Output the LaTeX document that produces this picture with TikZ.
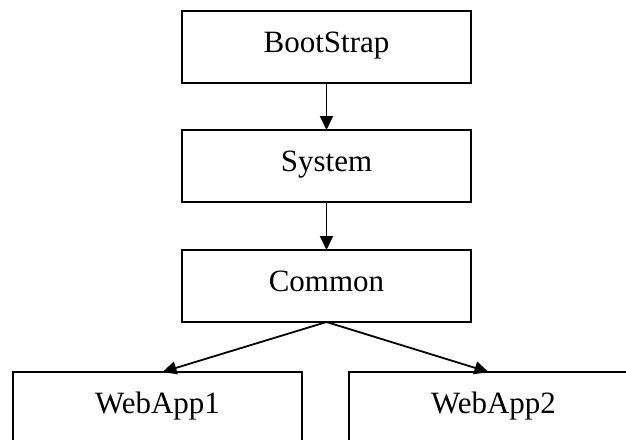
\documentclass[tikz,border=0pt]{standalone}
\usepackage{fontspec}
\setmainfont{Liberation Serif}
\usetikzlibrary{positioning,arrows.meta,calc}

\begin{document}
\begin{tikzpicture}[x=1pt,y=-1pt,
    layer/.style={draw, line width=1.8pt, minimum width=289pt, minimum height=72pt,
      inner sep=0pt, outer sep=0pt, text height=20pt, text depth=10pt,
      font=\fontsize{31}{36}\selectfont},
    dep/.style={line width=1.8pt, -{Triangle[length=14pt,width=13pt]}},
    node distance=47pt]
    \useasboundingbox (0,0) rectangle (626,439);

    \node[layer] (boot) at (326.5,47) {BootStrap};
    \node[layer, below=of boot] (sys) {System};
    \node[layer, below=48pt of sys] (com) {Common};

    \node[layer, anchor=north] (web1) at (157.5,372) {WebApp1};
    \node[layer, anchor=north] (web2) at (493.5,372) {WebApp2};

    \draw[dep] (boot) -- (sys);
    \draw[dep] (sys) -- (com);
    \draw[dep] (com.south) -- ([xshift=5pt]web1.north);
    \draw[dep] (com.south) -- ([xshift=-5pt]web2.north);
  \end{tikzpicture}
\end{document}
